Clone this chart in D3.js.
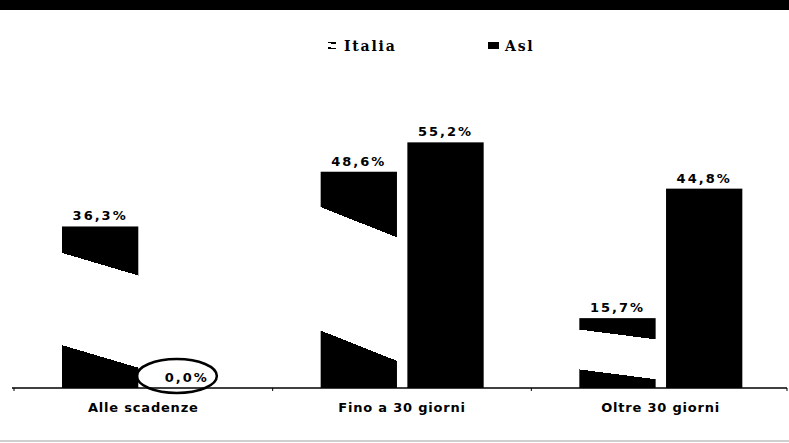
<!DOCTYPE html>
<html>
<head>
<meta charset="utf-8">
<script src="https://cdn.jsdelivr.net/npm/d3@7"></script>
<style>
  body { margin: 0; background: #fff; }
  text { font-family: "DejaVu Sans", Verdana, sans-serif; font-weight: bold; fill: #000; }
</style>
</head>
<body>
<div id="chart"></div>
<script>
// Data
var categories = ["Alle scadenze", "Fino a 30 giorni", "Oltre 30 giorni"]
var seriesNames = ["Italia", "Asl"]
var italia = [36.3, 48.6, 15.7]
var asl = [0.0, 55.2, 44.8]

var width = 789
var height = 443
var baseY = 388

var svg = d3.select("#chart")
  .append("svg")
  .attr("width", width)
  .attr("height", height)

// gradient used for the Italia bars (dark - light - dark)
var defs = svg.append("defs")
var grad = defs.append("linearGradient")
  .attr("id", "grad-italia")
  .attr("x1", 0.07).attr("y1", 0)
  .attr("x2", -0.07).attr("y2", 1)
var stops = [[0, "#000"], [0.17, "#000"], [0.17, "#fff"], [0.73, "#fff"], [0.73, "#000"], [1, "#000"]]
stops.forEach(function(s) {
  grad.append("stop").attr("offset", s[0]).attr("stop-color", s[1])
})

// top band and bottom rule
svg.append("rect")
  .attr("x", 0).attr("y", 0)
  .attr("width", width).attr("height", 10)
  .style("fill", "#000")
svg.append("line")
  .attr("x1", 0).attr("x2", width)
  .attr("y1", 441).attr("y2", 441)
  .style("stroke", "#cfcfcf")
  .style("stroke-width", 2)

// Scales
var x0 = d3.scaleBand()
  .domain(categories)
  .range([14, 790])

var x1 = d3.scaleBand()
  .domain(seriesNames)
  .range([48, 211])
  .paddingInner(0.12)

var y = d3.scaleLinear()
  .domain([0, 60])
  .range([baseY, 121])

var rows = categories.map(function(c, i) {
  return { cat: c, values: [{ key: "Italia", v: italia[i] }, { key: "Asl", v: asl[i] }] }
})

var groups = svg.selectAll("g.group")
  .data(rows)
  .enter()
  .append("g")
  .attr("class", "group")
  .attr("transform", d => `translate(${x0(d.cat)},0)`)

groups.selectAll("rect")
  .data(d => d.values)
  .enter()
  .append("rect")
  .attr("x", d => x1(d.key))
  .attr("y", d => y(d.v))
  .attr("width", x1.bandwidth())
  .attr("height", d => y(0) - y(d.v))
  .style("fill", d => d.key == "Italia" ? "url(#grad-italia)" : "#000")

// value labels
groups.selectAll("text.val")
  .data(d => d.values)
  .enter()
  .append("text")
  .attr("class", "val")
  .attr("x", d => x1(d.key) + x1.bandwidth() / 2)
  .attr("y", d => y(d.v) - 6)
  .attr("text-anchor", "middle")
  .style("font-size", "13px")
  .style("letter-spacing", "2px")
  .text(d => d3.format(".1f")(d.v).replace(".", ",") + "%")

// circle around the 0,0% label
svg.append("ellipse")
  .attr("cx", x0(categories[0]) + x1("Asl") + x1.bandwidth() / 2 - 10)
  .attr("cy", y(0) - 12)
  .attr("rx", 40)
  .attr("ry", 17)
  .style("fill", "none")
  .style("stroke", "#000")
  .style("stroke-width", 2.5)

// X axis
var axis = svg.append("g")
  .attr("transform", `translate(0,${baseY})`)
axis.append("line")
  .attr("x1", 12).attr("x2", 787)
  .style("stroke", "#000")
  .style("stroke-width", 1.5)
axis.selectAll("line.tick")
  .data(categories.concat(["end"]))
  .enter()
  .append("line")
  .attr("class", "tick")
  .attr("x1", (d, i) => i < categories.length ? x0(d) : x0.range()[1] - 3)
  .attr("x2", (d, i) => i < categories.length ? x0(d) : x0.range()[1] - 3)
  .attr("y1", 0).attr("y2", 3)
  .style("stroke", "#000")
axis.selectAll("text")
  .data(categories)
  .enter()
  .append("text")
  .attr("x", d => x0(d) + x0.bandwidth() / 2)
  .attr("y", 24)
  .attr("text-anchor", "middle")
  .style("font-size", "13px")
  .style("letter-spacing", "0.8px")
  .text(d => d)

// Legend
var legendX = [328, 488]
var legend = svg.selectAll("g.legend")
  .data(seriesNames)
  .enter()
  .append("g")
  .attr("class", "legend")
  .attr("transform", (d, i) => `translate(${legendX[i]},45)`)
legend.append("rect")
  .attr("x", 0).attr("y", -3)
  .attr("width", d => d == "Italia" ? 8 : 11)
  .attr("height", 7)
  .style("fill", d => d == "Italia" ? "url(#grad-italia)" : "#000")
legend.append("text")
  .attr("x", d => d == "Italia" ? 16 : 17)
  .attr("y", 6)
  .style("font-family", "'DejaVu Serif', serif")
  .style("font-size", "14px")
  .style("letter-spacing", "1.8px")
  .text(d => d)
</script>
</body>
</html>
